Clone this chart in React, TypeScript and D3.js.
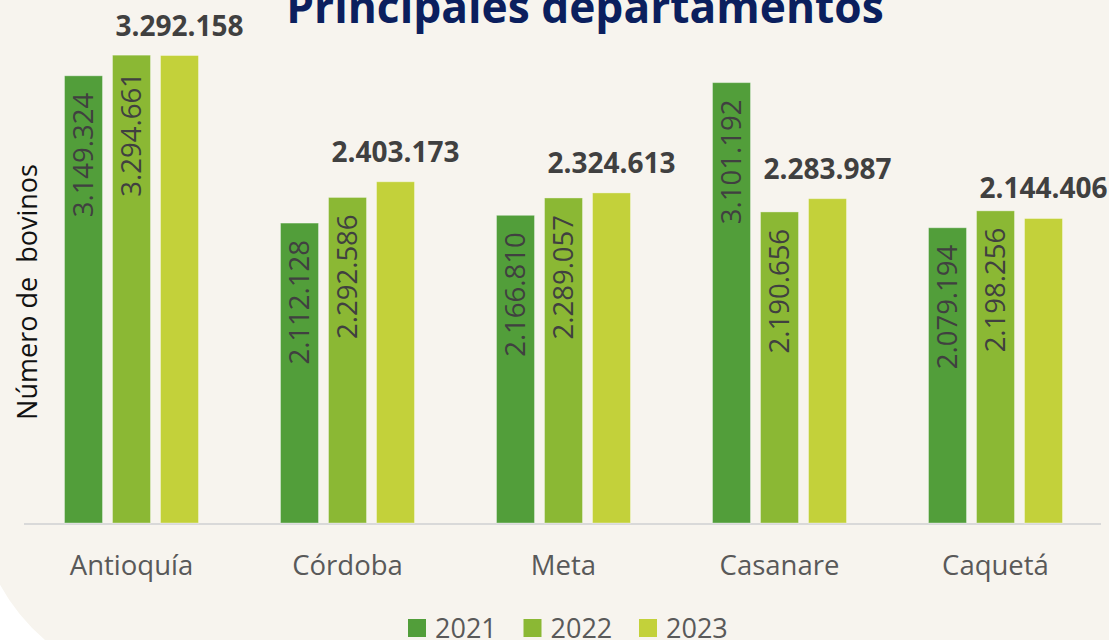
import React from "react";
import * as d3 from "d3";

const categories = ["Antioquía", "Córdoba", "Meta", "Casanare", "Caquetá"];
const years = ["2021", "2022", "2023"];
const values2021 = [3149324, 2112128, 2166810, 3101192, 2079194];
const values2022 = [3294661, 2292586, 2289057, 2190656, 2198256];
const values2023 = [3292158, 2403173, 2324613, 2283987, 2144406];
const seriesValues = [values2021, values2022, values2023];
const colors = ["#529E3A", "#8BB834", "#C3D13A"];

const W = 1109;
const H = 640;
const FONT = "'Open Sans', 'DejaVu Sans', sans-serif";

const fmt = (v: number) => d3.format(",")(v).replace(/,/g, ".");

export default function App() {
  const x0 = d3.scaleBand<string>().domain(categories).range([23.5, 1103.5]).padding(0);
  const x1 = d3
    .scaleBand<string>()
    .domain(years)
    .range([(216 - 134) / 2, (216 - 134) / 2 + 134])
    .paddingInner(10 / 48)
    .paddingOuter(0);
  const y = d3.scaleLinear().domain([0, 3500000]).range([523, 26]);

  return (
    <div style={{ position: "fixed", left: 0, top: 0, width: W, height: H, overflow: "hidden" }}>
      <svg width={W} height={H} style={{ display: "block", background: "#FFFFFF" }}>
        <path
          d={`M0,0 H${W} V${H} H45 A200,200 0 0 1 -5,575 L0,575 Z`}
          fill="#F7F4EE"
        />
        <rect x={0} y={0} width={1} height={575} fill="#F7F4EE" />
        <text
          x={585}
          y={23}
          textAnchor="middle"
          fontFamily={FONT}
          fontWeight={700}
          fontSize={44.3}
          fill="#0B1F5E"
        >
          Principales departamentos
        </text>
        <text
          transform={`translate(37,292) rotate(-90)`}
          textAnchor="middle"
          fontFamily={FONT}
          fontSize={27}
          fill="#111"
          style={{ whiteSpace: "pre" }}
        >
          {"Número de  bovinos"}
        </text>
        <line x1={24} x2={1101} y1={524} y2={524} stroke="#D9D9D9" strokeWidth={2} />
        {categories.map((c, ci) => (
          <g key={c} transform={`translate(${x0(c)},0)`}>
            {years.map((yr, si) => {
              const v = seriesValues[si][ci];
              const bx = x1(yr)!;
              const bw = x1.bandwidth();
              const top = y(v);
              return (
                <g key={yr}>
                  <rect
                    x={bx}
                    y={top}
                    width={bw}
                    height={y(0) - top}
                    fill={colors[si]}
                    stroke="#FFFFFF"
                    strokeOpacity={0.35}
                    strokeWidth={1}
                  />
                  {si < 2 ? (
                    <text
                      transform={`translate(${bx + bw / 2},${top + 17}) rotate(-90)`}
                      textAnchor="end"
                      dy="0.36em"
                      fontFamily={FONT}
                      fontSize={27.5}
                      fill="#404040"
                    >
                      {fmt(v)}
                    </text>
                  ) : (
                    <text
                      x={bx + bw / 2}
                      y={top - 20}
                      textAnchor="middle"
                      fontFamily={FONT}
                      fontWeight={700}
                      fontSize={28}
                      fill="#404040"
                    >
                      {fmt(v)}
                    </text>
                  )}
                </g>
              );
            })}
            <text
              x={x0.bandwidth() / 2}
              y={575}
              textAnchor="middle"
              fontFamily={FONT}
              fontSize={27.5}
              fill="#595959"
            >
              {c}
            </text>
          </g>
        ))}
        {years.map((yr, si) => {
          const lx = 408 + si * 115.5;
          return (
            <g key={yr}>
              <rect x={lx} y={619} width={18} height={18} fill={colors[si]} />
              <text x={lx + 27} y={638} fontFamily={FONT} fontSize={27} fill="#595959">
                {yr}
              </text>
            </g>
          );
        })}
      </svg>
    </div>
  );
}
